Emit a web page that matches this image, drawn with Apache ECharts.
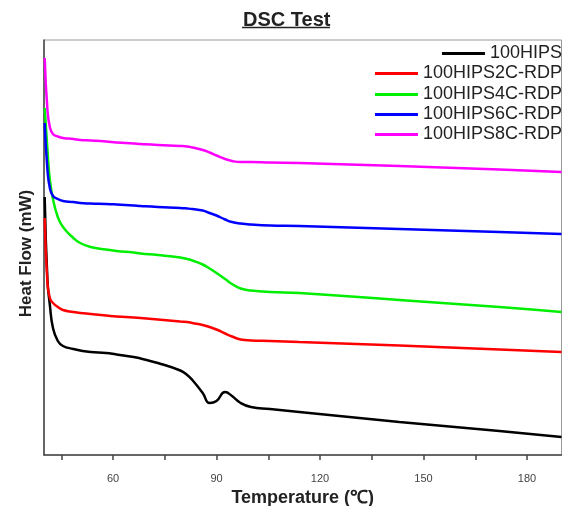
<!DOCTYPE html>
<html>
<head>
<meta charset="utf-8">
<script src="https://cdn.jsdelivr.net/npm/echarts@6/dist/echarts.min.js"></script>
<style>html,body{margin:0;padding:0;background:#fff}#c{width:574px;height:506px}</style>
</head>
<body>
<div id="c"></div>
<script>
// Temperature grid (°C)
const temperature = [40.2, 41, 41.7, 42.6, 44, 45.5, 48.5, 50.5, 53.5, 58, 61, 66, 68, 73, 79.5, 81.5, 83, 86, 88, 90, 92.5, 94.5, 97, 100, 105.5, 114, 143, 172, 190];
// Heat flow (arbitrary units, relative)
const hips100  = [258, 175, 150, 127, 114, 109, 106, 104.5, 103, 102, 100.5, 98, 96.5, 92, 84.5, 80, 75, 62, 52, 54, 63, 59, 52, 48, 46, 43, 33, 24, 18];
const hips2c   = [237, 172, 157, 152, 148, 145, 143, 142, 141, 139.5, 138.5, 137.5, 137, 135.5, 133.5, 133, 132, 130, 128, 125.5, 121.5, 118.5, 115.5, 114.5, 114, 113, 109.5, 105.5, 103];
const hips4c   = [347, 305, 275, 256, 238, 228, 217, 212, 208, 205.5, 204, 202.5, 201.5, 200, 197.5, 196, 194.5, 190.5, 186.5, 182, 176, 171, 166.5, 164.5, 163, 162, 155, 148, 143];
const hips6c   = [332, 285, 267, 259, 256, 254, 253, 252, 251.5, 251, 250.5, 249.5, 249, 248, 247, 246.5, 246, 244.5, 242, 239.5, 235.5, 233, 231.5, 230.5, 229.5, 229, 226, 223, 221];
const hips8c   = [397, 345, 328, 321, 318.5, 317, 316, 315, 314.5, 313.5, 312.5, 311.5, 311, 310, 309, 308.5, 307.5, 305, 302.5, 299.5, 296, 294, 293, 293, 292.5, 292, 289, 285.5, 283];
const seriesNames = ['100HIPS', '100HIPS2C-RDP', '100HIPS4C-RDP', '100HIPS6C-RDP', '100HIPS8C-RDP'];
const seriesColors = ['#000000', '#ff0000', '#00ee00', '#0000ff', '#ff00ff'];
const xTickValues = [45, 60, 75, 90, 105, 120, 135, 150, 165, 180];
const xLabelValues = [60, 90, 120, 150, 180];

const allValues = [hips100, hips2c, hips4c, hips6c, hips8c];
const FONT = '"Liberation Sans", Arial, sans-serif';

const chart = echarts.init(document.getElementById('c'), null, {renderer: 'canvas'});
const series = allValues.map((vals, i) => ({
  name: seriesNames[i],
  type: 'line',
  data: temperature.map((t, k) => [t, vals[k]]),
  showSymbol: false,
  symbol: 'none',
  smooth: 0.5,
  lineStyle: {color: seriesColors[i], width: 2.5},
  itemStyle: {color: seriesColors[i]},
  z: 2 + i
}));
const legendTops = [44.5, 64.5, 85.5, 105.5, 125.5];
const legends = seriesNames.map((n, i) => ({
  data: [n],
  right: 12,
  top: legendTops[i],
  padding: 0,
  icon: 'rect',
  itemWidth: 43,
  itemHeight: 3,
  selectedMode: false,
  textStyle: {fontFamily: FONT, fontSize: 18, color: '#222'}
}));
chart.setOption({
  animation: false,
  backgroundColor: '#ffffff',
  title: {
    text: 'DSC Test',
    left: 238,
    top: 5,
    textStyle: {fontFamily: FONT, fontSize: 20, fontWeight: 'bold', color: '#222'}
  },
  graphic: [{
    type: 'line',
    shape: {x1: 242, y1: 27.5, x2: 330, y2: 27.5},
    style: {stroke: '#222', lineWidth: 1.5}
  }],
  legend: legends,
  grid: {left: 44, right: 12.5, top: 40, bottom: 51, show: true, borderColor: '#999', borderWidth: 1,
         containLabel: false, outerBoundsMode: 'none'},
  xAxis: {
    type: 'value',
    min: 40,
    max: 190,
    name: 'Temperature (℃)',
    nameLocation: 'middle',
    nameGap: 27,
    nameTextStyle: {fontFamily: FONT, fontSize: 18, fontWeight: 'bold', color: '#222'},
    axisLine: {show: true, lineStyle: {color: '#444', width: 1.5}},
    axisTick: {show: true, customValues: xTickValues, length: 5, inside: false, lineStyle: {color: '#444', width: 1.5}},
    axisLabel: {customValues: xLabelValues, margin: 18, fontFamily: FONT, fontSize: 11, color: '#444'},
    splitLine: {show: false}
  },
  yAxis: {
    type: 'value',
    min: 0,
    max: 415,
    name: 'Heat Flow (mW)',
    nameLocation: 'middle',
    nameGap: 9,
    nameTextStyle: {fontFamily: FONT, fontSize: 17, fontWeight: 'bold', color: '#222', padding: [0, 0, 0, -12]},
    axisLine: {show: true, lineStyle: {color: '#444', width: 1.5}},
    axisTick: {show: false},
    axisLabel: {show: false},
    splitLine: {show: false}
  },
  series: series
});
</script>
</body>
</html>
